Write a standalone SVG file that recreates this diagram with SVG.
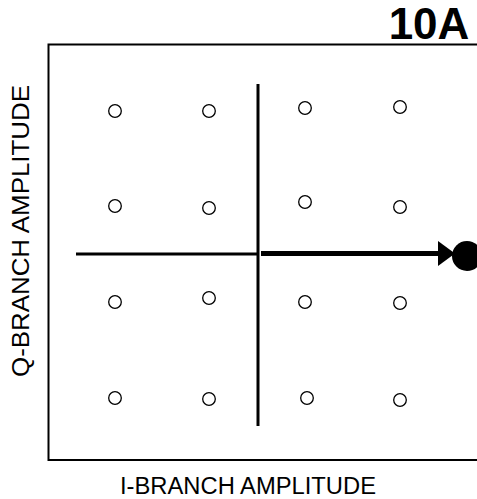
<svg xmlns="http://www.w3.org/2000/svg" width="477" height="499" viewBox="0 0 477 499">
<style>
.pt{fill:#fff;stroke:#000;stroke-width:1.3}
.lbl{font-family:"Liberation Sans",Arial,sans-serif;font-size:23px;fill:#000}
.axis{stroke:#000;stroke-width:3;fill:none}
</style>
<defs>
<marker id="ah" markerWidth="3.4" markerHeight="5" refX="2" refY="2.5" orient="auto" markerUnits="strokeWidth">
<path d="M0,0 L3.4,2.5 L0,5 Z" fill="#000"/>
</marker>
</defs>
<rect width="477" height="499" fill="#fff"/>
<g id="frame">
<path d="M477,44.5 H48.5 V460 H477" fill="none" stroke="#000" stroke-width="2"/>
</g>
<text id="title" x="429" y="39" text-anchor="middle" font-family="Liberation Sans,Arial,sans-serif" font-weight="bold" font-size="44">10A</text>
<g id="connectors">
<line class="axis" x1="76" y1="254" x2="258" y2="254"/>
<line class="axis" x1="258" y1="84" x2="258" y2="426"/>
<line x1="261" y1="253.5" x2="448" y2="253.5" stroke="#000" stroke-width="5" marker-end="url(#ah)"/>
</g>
<g id="signal"><circle cx="467" cy="256" r="15" fill="#000"/></g>
<g id="points">
<circle class="pt" cx="115" cy="111" r="6.3"/>
<circle class="pt" cx="209" cy="111" r="6.3"/>
<circle class="pt" cx="305" cy="108" r="6.3"/>
<circle class="pt" cx="400" cy="107" r="6.3"/>
<circle class="pt" cx="115" cy="206" r="6.3"/>
<circle class="pt" cx="209" cy="208" r="6.3"/>
<circle class="pt" cx="305" cy="202" r="6.3"/>
<circle class="pt" cx="400" cy="207" r="6.3"/>
<circle class="pt" cx="115" cy="302" r="6.3"/>
<circle class="pt" cx="209" cy="298" r="6.3"/>
<circle class="pt" cx="305" cy="302" r="6.3"/>
<circle class="pt" cx="400" cy="303" r="6.3"/>
<circle class="pt" cx="115" cy="398" r="6.3"/>
<circle class="pt" cx="209" cy="399" r="6.3"/>
<circle class="pt" cx="307" cy="398" r="6.3"/>
<circle class="pt" cx="400" cy="400" r="6.3"/>
</g>
<text id="xlabel" class="lbl" x="248" y="494" text-anchor="middle" textLength="256" lengthAdjust="spacingAndGlyphs">I-BRANCH AMPLITUDE</text>
<text id="ylabel" class="lbl" transform="translate(29,231) rotate(-90)" text-anchor="middle" font-size="24" textLength="292" lengthAdjust="spacingAndGlyphs">Q-BRANCH AMPLITUDE</text>
</svg>
